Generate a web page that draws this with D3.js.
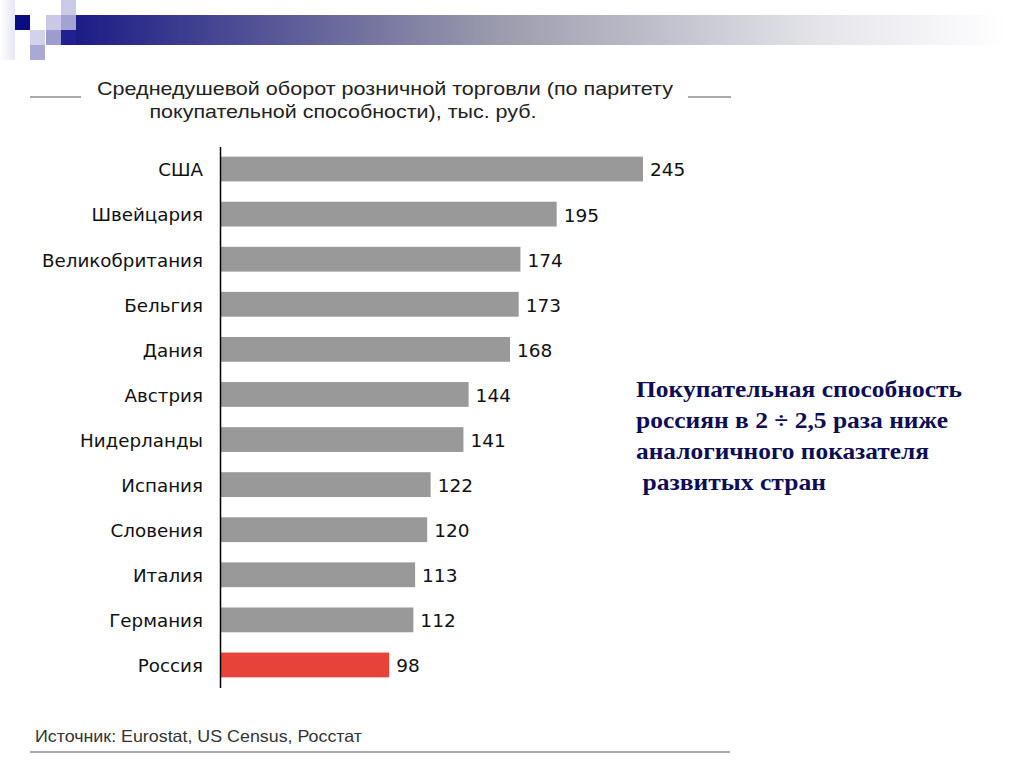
<!DOCTYPE html>
<html><head><meta charset="utf-8">
<script src="https://cdn.jsdelivr.net/npm/d3@7"></script>
<style>body{margin:0;background:#fff}svg{display:block}</style>
</head><body>
<svg id="c" width="1024" height="768"></svg>
<script>
const categories = ["США","Швейцария","Великобритания","Бельгия","Дания","Австрия","Нидерланды","Испания","Словения","Италия","Германия","Россия"];
const values = [245,195,174,173,168,144,141,122,120,113,112,98];
const highlight = "Россия";
const titleLines = ["Среднедушевой оборот розничной торговли (по паритету","покупательной способности), тыс. руб."];
const noteLines = ["Покупательная способность","россиян в 2 ÷ 2,5 раза ниже","аналогичного показателя","\u00a0развитых стран"];
const sourceText = "Источник: Eurostat, US Census, Росстат";

const svg = d3.select("#c");
const defs = svg.append("defs");
const g = defs.append("linearGradient").attr("id","hdr").attr("x1","0").attr("x2","1");
g.append("stop").attr("offset","0").attr("stop-color","#1c1c86");
g.append("stop").attr("offset","0.45").attr("stop-color","#9a9aac");
g.append("stop").attr("offset","0.8").attr("stop-color","#e4e4ea");
g.append("stop").attr("offset","1").attr("stop-color","#ffffff");
const lg = defs.append("linearGradient").attr("id","lft").attr("x1","0").attr("x2","1");
lg.append("stop").attr("offset","0").attr("stop-color","#ffffff");
lg.append("stop").attr("offset","1").attr("stop-color","#e6e6f2");

// header decoration
svg.append("rect").attr("x",0).attr("y",0).attr("width",15).attr("height",60).attr("fill","url(#lft)");
svg.append("rect").attr("x",76).attr("y",15).attr("width",930).attr("height",30).attr("fill","url(#hdr)");
const sq = [[15,15,"#0c0c82"],[46,15,"#c9c9e5"],[61,15,"#a3a3d2"],[61,0,"#cbcbe6"],[30,30,"#d2d2ea"],[46,30,"#9c9ccf"],[61,30,"#202090"],[30,45,"#a9a9d4"]];
svg.selectAll("rect.sq").data(sq).join("rect").attr("class","sq")
  .attr("x",d=>d[0]).attr("y",d=>d[1]).attr("width",15).attr("height",15).attr("fill",d=>d[2]);

// title
const titleW = [576,387], titleX = [385,343];
svg.append("g").selectAll("text").data(titleLines).join("text")
  .attr("x",(d,i)=>titleX[i]).attr("y",(d,i)=>95+i*23).attr("text-anchor","middle")
  .attr("font-family","Liberation Sans, Arial").attr("font-size",19).attr("fill","#222")
  .attr("textLength",(d,i)=>titleW[i]).attr("lengthAdjust","spacingAndGlyphs").text(d=>d);
svg.append("line").attr("x1",30).attr("x2",81).attr("y1",97).attr("y2",97).attr("stroke","#aaa").attr("stroke-width",2);
svg.append("line").attr("x1",688).attr("x2",731).attr("y1",97).attr("y2",97).attr("stroke","#aaa").attr("stroke-width",2);

// scales
const y = d3.scaleBand().domain(categories).range([146.5,687.5]).paddingInner(0.45).paddingOuter(0.225);
const x = d3.scaleLinear().domain([0,245]).range([220,643]);

svg.selectAll("rect.bar").data(categories).join("rect").attr("class","bar")
  .attr("x",x(0)).attr("y",d=>y(d)).attr("height",y.bandwidth())
  .attr("width",(d,i)=>x(values[i])-x(0))
  .attr("fill",d=>d===highlight?"#e8433a":"#999999");

svg.selectAll("text.val").data(categories).join("text").attr("class","val")
  .attr("x",(d,i)=>x(values[i])+7).attr("y",d=>y(d)+y.bandwidth()/2)
  .attr("dy","0.4em").attr("font-family","DejaVu Sans, Verdana").attr("font-size",18.5).attr("fill","#111")
  .text((d,i)=>values[i]);

const axis = d3.axisLeft(y).tickSize(0).tickPadding(17);
const ax = svg.append("g").attr("transform",`translate(${x(0)},0)`).call(axis);
ax.select(".domain").attr("stroke","#000").attr("stroke-width",1.5);
ax.selectAll("text").attr("font-family","DejaVu Sans, Verdana").attr("font-size",18.3).attr("fill","#111").attr("dy","0.4em");

// note
const noteW = [326,312,293,190];
svg.append("g").selectAll("text").data(noteLines).join("text")
  .attr("x",636).attr("y",(d,i)=>397+i*31)
  .attr("font-family","Liberation Serif, Times New Roman").attr("font-weight","bold").attr("font-size",23)
  .attr("textLength",(d,i)=>noteW[i]).attr("lengthAdjust","spacingAndGlyphs")
  .attr("fill","#0d0d55").text(d=>d);

// source
svg.append("text").attr("x",35).attr("y",742).attr("font-family","Liberation Sans, Arial").attr("font-size",16.5)
  .attr("textLength",327).attr("lengthAdjust","spacingAndGlyphs")
  .attr("fill","#333").text(sourceText);
svg.append("line").attr("x1",30).attr("x2",730).attr("y1",752).attr("y2",752).attr("stroke","#aaa").attr("stroke-width",2);
</script>
</body></html>
